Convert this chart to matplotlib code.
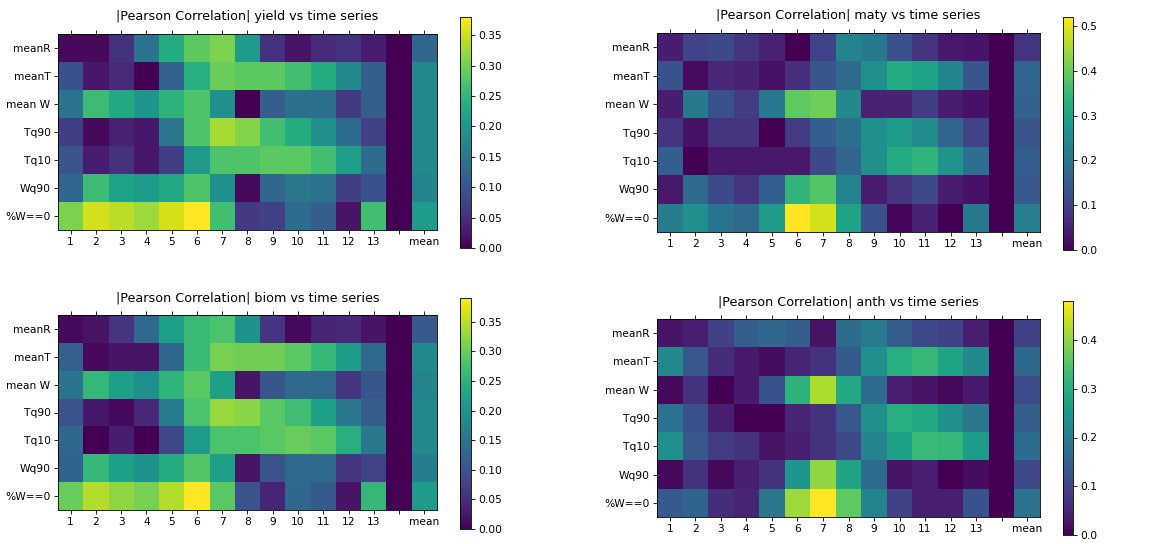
"""Heatmaps of |Pearson correlation| between crop traits and time series."""

import matplotlib
matplotlib.use("Agg")
import matplotlib.pyplot as plt
import numpy as np


ROW_LABELS = ["meanR", "meanT", "mean W", "Tq90", "Tq10", "Wq90", "%W==0"]
COL_LABELS = [str(i) for i in range(1, 14)] + ["", "mean"]

# 13 periods, an empty column (shown as 0) and the row mean
yield_vals = [
    [0.010, 0.010, 0.055, 0.145, 0.235, 0.285, 0.305, 0.210, 0.055, 0.020, 0.045, 0.055, 0.030, 0.0, 0.125],
    [0.095, 0.025, 0.045, 0.000, 0.120, 0.240, 0.295, 0.285, 0.285, 0.265, 0.235, 0.180, 0.115, 0.0, 0.180],
    [0.145, 0.260, 0.230, 0.200, 0.245, 0.275, 0.190, 0.000, 0.115, 0.140, 0.140, 0.065, 0.115, 0.0, 0.180],
    [0.070, 0.010, 0.035, 0.025, 0.150, 0.275, 0.330, 0.310, 0.265, 0.235, 0.190, 0.135, 0.075, 0.0, 0.180],
    [0.100, 0.030, 0.055, 0.025, 0.070, 0.210, 0.275, 0.275, 0.285, 0.285, 0.265, 0.215, 0.135, 0.0, 0.180],
    [0.125, 0.260, 0.220, 0.210, 0.230, 0.275, 0.190, 0.010, 0.125, 0.150, 0.145, 0.070, 0.095, 0.0, 0.170],
    [0.305, 0.355, 0.340, 0.325, 0.355, 0.380, 0.265, 0.065, 0.075, 0.135, 0.115, 0.020, 0.265, 0.0, 0.210],
]

maty_vals = [
    [0.040, 0.105, 0.115, 0.080, 0.050, 0.000, 0.105, 0.235, 0.210, 0.130, 0.080, 0.035, 0.030, 0.0, 0.080],
    [0.130, 0.015, 0.060, 0.050, 0.025, 0.070, 0.140, 0.180, 0.260, 0.320, 0.300, 0.235, 0.140, 0.0, 0.170],
    [0.040, 0.210, 0.130, 0.090, 0.210, 0.390, 0.405, 0.245, 0.050, 0.050, 0.095, 0.040, 0.025, 0.0, 0.165],
    [0.080, 0.025, 0.080, 0.080, 0.000, 0.090, 0.155, 0.190, 0.260, 0.285, 0.250, 0.170, 0.105, 0.0, 0.140],
    [0.155, 0.000, 0.035, 0.035, 0.035, 0.035, 0.115, 0.170, 0.260, 0.320, 0.340, 0.270, 0.190, 0.0, 0.155],
    [0.035, 0.180, 0.115, 0.080, 0.155, 0.340, 0.380, 0.235, 0.040, 0.080, 0.115, 0.040, 0.025, 0.0, 0.145],
    [0.220, 0.260, 0.200, 0.180, 0.285, 0.520, 0.485, 0.300, 0.130, 0.010, 0.050, 0.000, 0.210, 0.0, 0.225],
]

biom_vals = [
    [0.010, 0.020, 0.060, 0.135, 0.220, 0.265, 0.280, 0.200, 0.060, 0.010, 0.040, 0.045, 0.020, 0.0, 0.110],
    [0.120, 0.010, 0.020, 0.020, 0.130, 0.265, 0.310, 0.305, 0.305, 0.290, 0.260, 0.215, 0.135, 0.0, 0.185],
    [0.150, 0.260, 0.220, 0.195, 0.255, 0.290, 0.220, 0.020, 0.105, 0.135, 0.135, 0.060, 0.105, 0.0, 0.175],
    [0.100, 0.025, 0.010, 0.045, 0.165, 0.280, 0.330, 0.320, 0.290, 0.270, 0.220, 0.155, 0.115, 0.0, 0.185],
    [0.130, 0.000, 0.030, 0.000, 0.085, 0.215, 0.280, 0.280, 0.290, 0.300, 0.290, 0.245, 0.155, 0.0, 0.185],
    [0.125, 0.260, 0.220, 0.200, 0.240, 0.285, 0.220, 0.020, 0.100, 0.135, 0.135, 0.060, 0.080, 0.0, 0.165],
    [0.300, 0.345, 0.325, 0.310, 0.345, 0.390, 0.290, 0.100, 0.040, 0.130, 0.110, 0.020, 0.260, 0.0, 0.215],
]

anth_vals = [
    [0.025, 0.040, 0.095, 0.145, 0.160, 0.145, 0.025, 0.170, 0.200, 0.145, 0.105, 0.095, 0.040, 0.0, 0.095],
    [0.230, 0.130, 0.060, 0.035, 0.015, 0.050, 0.070, 0.135, 0.240, 0.300, 0.320, 0.280, 0.230, 0.0, 0.160],
    [0.010, 0.070, 0.000, 0.035, 0.120, 0.310, 0.420, 0.290, 0.170, 0.040, 0.025, 0.010, 0.035, 0.0, 0.110],
    [0.180, 0.120, 0.040, 0.000, 0.000, 0.050, 0.070, 0.130, 0.240, 0.300, 0.290, 0.240, 0.190, 0.0, 0.145],
    [0.240, 0.130, 0.085, 0.070, 0.025, 0.040, 0.070, 0.105, 0.215, 0.275, 0.325, 0.320, 0.265, 0.0, 0.170],
    [0.010, 0.070, 0.010, 0.040, 0.070, 0.250, 0.400, 0.280, 0.170, 0.025, 0.040, 0.000, 0.015, 0.0, 0.105],
    [0.135, 0.155, 0.060, 0.050, 0.190, 0.410, 0.480, 0.360, 0.215, 0.095, 0.040, 0.040, 0.120, 0.0, 0.180],
]

PANELS = [
    ("yield", yield_vals),
    ("maty", maty_vals),
    ("biom", biom_vals),
    ("anth", anth_vals),
]

# axes and colorbar boxes in pixels: (left, top, right, bottom)
W, H = 1168, 544
DPI = 76.5
AX_BOXES = [(58, 34, 437, 230), (657, 33, 1040, 232), (58, 315, 437, 510), (657, 319, 1040, 517)]
CB_BOXES = [(460, 17, 471, 248), (1063, 17, 1073, 250), (460, 298, 471, 529), (1063, 301, 1073, 535)]


def to_rect(box):
    l, t, r, b = box
    return [l / W, 1 - b / H, (r - l) / W, (b - t) / H]


def main() -> None:
    fig = plt.figure(figsize=(W / DPI, H / DPI), dpi=DPI)

    for (name, vals), axbox, cbbox in zip(PANELS, AX_BOXES, CB_BOXES):
        data = np.array(vals, dtype=float)
        ax = fig.add_axes(to_rect(axbox))
        cax = fig.add_axes(to_rect(cbbox))
        im = ax.imshow(data, cmap="viridis", aspect="auto", interpolation="nearest")
        ax.set_xticks(np.arange(len(COL_LABELS)))
        ax.set_xticklabels(COL_LABELS)
        ax.set_yticks(np.arange(len(ROW_LABELS)))
        ax.set_yticklabels(ROW_LABELS)
        ax.tick_params(top=True, labelsize=10)
        ax.set_title(f"|Pearson Correlation| {name} vs time series", fontsize=12, pad=13)
        cb = fig.colorbar(im, cax=cax)
        cb.ax.tick_params(labelsize=10)

    fig.savefig("out.png", dpi=DPI)


if __name__ == "__main__":
    main()
